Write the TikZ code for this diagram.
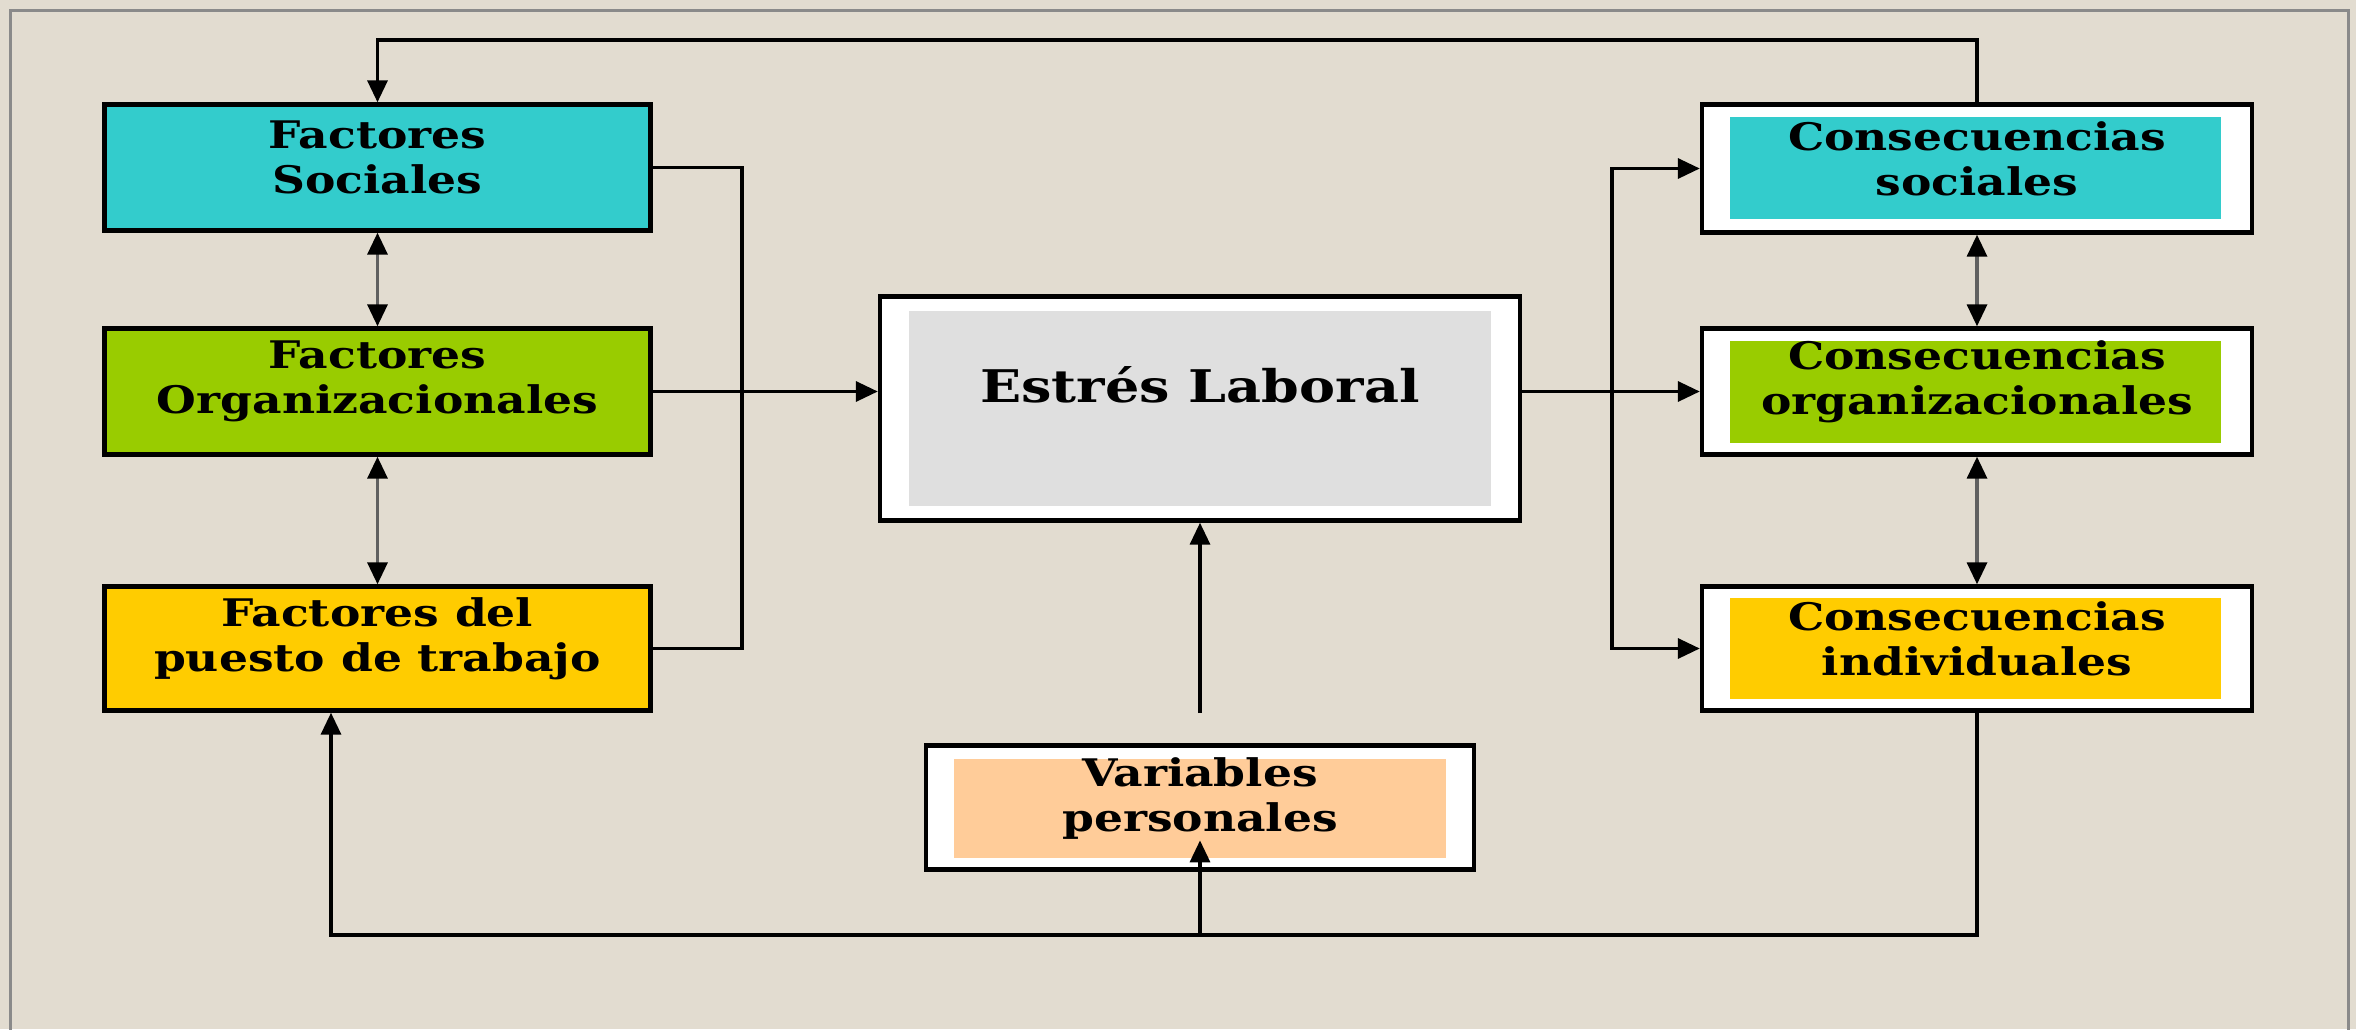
\documentclass[tikz,border=0pt]{standalone}
\usepackage{fontspec}
\newfontfamily\boxfont{DejaVu Serif}[FakeStretch=1.2,BoldFont={DejaVu Serif Bold}]
\usetikzlibrary{arrows.meta}
\definecolor{bg}{HTML}{E2DCD0}
\definecolor{framegray}{HTML}{8A8A8A}
\definecolor{cyanbox}{HTML}{33CCCC}
\definecolor{greenbox}{HTML}{99CC00}
\definecolor{yellowbox}{HTML}{FFCC00}
\definecolor{peachbox}{HTML}{FFCC99}
\definecolor{graybox}{HTML}{DFDFDF}
\definecolor{linegray}{HTML}{606060}
\begin{document}
\begin{tikzpicture}[x=0.5pt,y=-0.5pt,
  fbox/.style={draw=black, line width=2.2pt, inner sep=0pt},
  wbox/.style={fbox, fill=white},
  ibox/.style={draw=none, inner sep=0pt},
  txt/.style={align=center, inner sep=0pt, font=\boxfont\bfseries\fontsize{19}{22.5}\selectfont},
  bigtxt/.style={align=center, inner sep=0pt, font=\boxfont\bfseries\fontsize{22.5}{25}\selectfont},
  conn/.style={line width=1.7pt, draw=black},
  arr/.style={conn, -{Triangle[length=11pt,width=10pt]}},
  twoway/.style={line width=1.7pt, draw=linegray, {Triangle[length=11pt,width=10pt,color=black]}-{Triangle[length=11pt,width=10pt,color=black]}}
]
\useasboundingbox (0,0) rectangle (2356,1029);
\fill[bg] (0,0) rectangle (2356,1029);
\draw[framegray, line width=1.5pt] (10,1040) -- (10,10) -- (2348,10) -- (2348,1040);

% left factor boxes
\node[fbox, fill=cyanbox, minimum width=273pt, minimum height=63pt] (fs) at (377.5,167.5) {};
\node[fbox, fill=greenbox, minimum width=273pt, minimum height=63pt] (fo) at (377.5,391.5) {};
\node[fbox, fill=yellowbox, minimum width=273pt, minimum height=62pt] (fp) at (377.5,648.5) {};
\node[txt] (fst) at ([yshift=5pt]fs.center) {Factores\\Sociales};
\node[txt] (fot) at ([yshift=5pt]fo.center) {Factores\\Organizacionales};
\node[txt] (fpt) at ([yshift=5pt]fp.center) {Factores del\\puesto de trabajo};

% central box
\node[wbox, minimum width=320pt, minimum height=112pt] (es) at (1200,408.5) {};
\node[ibox, fill=graybox, minimum width=291pt, minimum height=97.5pt] (esi) at (1200,408.5) {};
\node[bigtxt] (est) at ([yshift=12pt]esi.center) {Estrés Laboral};

% variables personales
\node[wbox, minimum width=274pt, minimum height=62pt] (vp) at (1200,807.5) {};
\node[ibox, fill=peachbox, minimum width=246pt, minimum height=49.5pt] (vpi) at (1200,808.5) {};
\node[txt] (vpt) at ([yshift=5pt]vpi.center) {Variables\\personales};

% consequence boxes
\node[wbox, minimum width=275pt, minimum height=64pt] (cs) at (1977,168.5) {};
\node[ibox, fill=cyanbox, minimum width=245.5pt, minimum height=51pt] (csi) at (1975.5,168) {};
\node[txt] (cst) at ([yshift=5pt]cs.center) {Consecuencias\\sociales};
\node[wbox, minimum width=275pt, minimum height=63pt] (co) at (1977,391.5) {};
\node[ibox, fill=greenbox, minimum width=245.5pt, minimum height=51pt] (coi) at (1975.5,392) {};
\node[txt] (cot) at ([yshift=5pt]co.center) {Consecuencias\\organizacionales};
\node[wbox, minimum width=275pt, minimum height=62pt] (ci) at (1977,648.5) {};
\node[ibox, fill=yellowbox, minimum width=245.5pt, minimum height=50.5pt] (cii) at (1975.5,648.5) {};
\node[txt] (cit) at ([yshift=5pt]ci.center) {Consecuencias\\individuales};

% helper coordinates
\coordinate (ctop) at (1976,40);
\coordinate (lb) at (742,0);
\coordinate (rb) at (1612,0);
\coordinate (bot) at (331,935);
\coordinate (vstart) at (1200,713);

% top feedback
\draw[arr] (cs.north) -- (cs.north |- ctop) -| (fs.north);
% left two-way arrows
\draw[twoway] (fs.south) -- (fo.north);
\draw[twoway] (fo.south) -- (fp.north);
% left bracket
\draw[conn] (fs.east) -| (lb |- fp.east) -- (fp.east);
\draw[arr] (fo.east) -- (fo.east -| es.west);
% right side
\draw[arr] (es.east |- co.west) -- (co.west);
\draw[conn, {Triangle[length=11pt,width=10pt]}-{Triangle[length=11pt,width=10pt]}] (cs.west) -| (rb |- ci.west) -- (ci.west);
\draw[twoway] (cs.south) -- (co.north);
\draw[twoway] (co.south) -- (ci.north);
% bottom feedback
\draw[arr] (ci.south) |- (bot) -- (bot |- fp.south);
\draw[arr] (vpi.south |- bot) -- ([yshift=9pt]vpi.south);
% variables to stress
\draw[arr] (es.south |- vstart) -- (es.south);
\end{tikzpicture}
\end{document}
